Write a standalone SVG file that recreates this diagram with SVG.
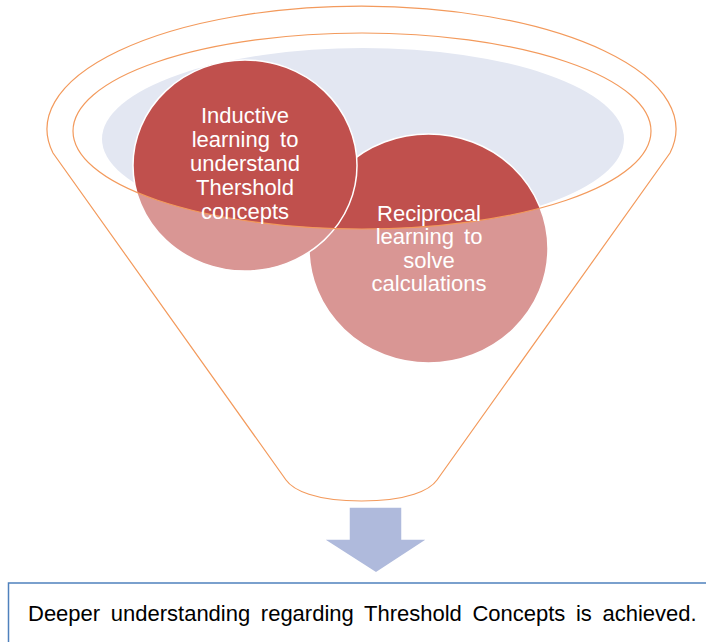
<svg xmlns="http://www.w3.org/2000/svg" width="706" height="642" viewBox="0 0 706 642">
<style>
.circ{fill:#C0504D;stroke:#FFFFFF;stroke-width:1.5}
.ctext{font-family:"Liberation Sans",Arial,sans-serif;font-size:22px;fill:#FFFFFF;text-anchor:middle}
.orange{fill:none;stroke:#F39A5C;stroke-width:1.2}
.btext{font-family:"Liberation Sans",Arial,sans-serif;font-size:22px;fill:#000000}
</style>
<rect width="706" height="642" fill="#FFFFFF"/>
<g id="funnel-bowl">
<ellipse cx="363" cy="139" rx="261" ry="91" fill="#E3E7F2"/>
</g>
<g id="node-reciprocal">
<ellipse class="circ" cx="428.5" cy="248.5" rx="119.5" ry="114.5"/>
</g>
<g id="node-inductive">
<ellipse class="circ" cx="245" cy="165.5" rx="112" ry="105.5"/>
</g>
<g id="funnel">
<path fill="#FFFFFF" fill-opacity="0.4" fill-rule="evenodd" d="M53,153 A314.5,123 0 1 1 670,153 L437,480 C430,490 408,501 361.5,501 C315,501 293,490 286,480 Z M73,131 A289,98 0 1 0 651,131 A289,98 0 1 0 73,131 Z"/>
<path class="orange" d="M53,153 A314.5,123 0 1 1 670,153 L437,480 C430,490 408,501 361.5,501 C315,501 293,490 286,480 Z"/>
<ellipse class="orange" cx="362" cy="131" rx="289" ry="98"/>
</g>
<g id="node-inductive-text">
<text class="ctext" x="245" y="123">Inductive</text>
<text class="ctext" x="245" y="147" word-spacing="4">learning to</text>
<text class="ctext" x="245" y="171">understand</text>
<text class="ctext" x="245" y="195">Thershold</text>
<text class="ctext" x="245" y="219">concepts</text>
</g>
<g id="node-reciprocal-text">
<text class="ctext" x="429" y="221">Reciprocal</text>
<text class="ctext" x="429" y="244" word-spacing="4">learning to</text>
<text class="ctext" x="429" y="268">solve</text>
<text class="ctext" x="429" y="291">calculations</text>
</g>
<g id="connectors">
<path d="M349,507 L402,507 L402,539 L428,539 L376,573 L323,539 L349,539 Z" fill="#AFBADC" stroke="#FFFFFF" stroke-width="1.5"/>
</g>
<g id="node-result">
<rect x="8.5" y="583" width="720" height="80" fill="#FFFFFF" stroke="#4F81BD" stroke-width="1.5"/>
<text class="btext" x="28" y="621" word-spacing="4.5">Deeper understanding regarding Threshold Concepts is achieved.</text>
</g>
</svg>
